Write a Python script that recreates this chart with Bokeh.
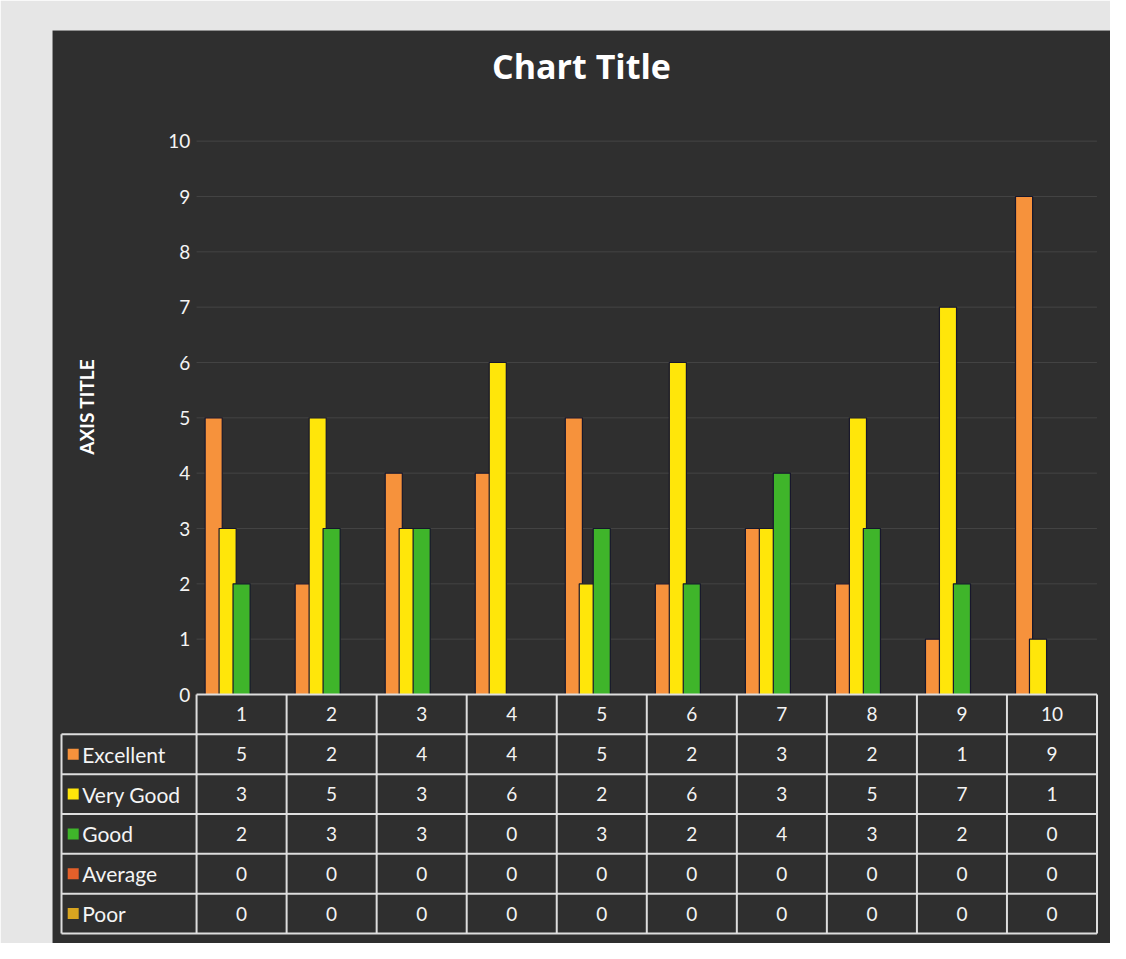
import math
from bokeh.plotting import figure
from bokeh.models import Range1d
from bokeh.core.properties import value
from bokeh.embed import file_html
from bokeh.resources import INLINE

categories = ["1", "2", "3", "4", "5", "6", "7", "8", "9", "10"]
series_names = ["Excellent", "Very Good", "Good", "Average", "Poor"]
excellent = [5, 2, 4, 4, 5, 2, 3, 2, 1, 9]
very_good = [3, 5, 3, 6, 2, 6, 3, 5, 7, 1]
good = [2, 3, 3, 0, 3, 2, 4, 3, 2, 0]
average = [0, 0, 0, 0, 0, 0, 0, 0, 0, 0]
poor = [0, 0, 0, 0, 0, 0, 0, 0, 0, 0]
y_ticks = [0, 1, 2, 3, 4, 5, 6, 7, 8, 9, 10]
y_tick_labels = ["0", "1", "2", "3", "4", "5", "6", "7", "8", "9", "10"]
chart_title = "Chart Title"
axis_title = "AXIS TITLE"

series_values = [excellent, very_good, good, average, poor]
series_colors = ["#F6923C", "#FFE60A", "#3FB52A", "#E4602A", "#D9A520"]

ROW_H = 0.72
LEFT = -1.0
TABLE_COLOR = "#dedede"
TXT = "#f4f4f4"

p = figure(width=1110, height=943, x_range=Range1d(-1.1, 10.65), y_range=Range1d(-4.5, 12.0),
           output_backend="svg", toolbar_location=None,
           x_axis_location=None, y_axis_location=None,
           min_border_left=52, min_border_right=0, min_border_top=30, min_border_bottom=0)
p.grid.visible = False
p.outline_line_color = None
p.background_fill_color = "#2f2f2f"
p.border_fill_color = "#e6e6e6"

n = len(categories)
xc = [i + 1 for i in range(n)]

# gridlines
gy = [t for t in y_ticks if t > 0]
p.segment(x0=[0.5] * len(gy), x1=[n + 0.5] * len(gy), y0=gy, y1=gy, line_color="#434343", line_width=1)

# bars
spacing = 0.155
for k, (vals, col) in enumerate(zip(series_values, series_colors)):
    off = (k - 2) * spacing
    xs = [x + off for x in xc]
    has = any(v != 0 for v in vals)
    p.vbar(x=xs, top=vals, bottom=0, width=0.19, fill_color=col,
           line_color="#17172c" if has else None, line_width=1.2)

# y tick labels
p.text(x=[0.43] * len(y_ticks), y=y_ticks, text=y_tick_labels, text_color=TXT,
       text_font=value("Lato"), text_font_size=value("19px"), text_align="right", text_baseline="middle")

# titles
p.text(x=[(p.x_range.start + p.x_range.end) / 2], y=[11.35], text=[chart_title], text_color="#ffffff",
       text_font=value("Open Sans"), text_font_style="bold", text_font_size=value("34px"),
       text_align="center", text_baseline="middle")
p.text(x=[-0.72], y=[5.2], text=[axis_title], angle=math.pi / 2, text_color="#ffffff",
       text_font=value("Lato"), text_font_style="bold", text_font_size=value("19px"),
       text_align="center", text_baseline="middle")

# data table lines
nrows = len(series_names)
bottom = -(nrows + 1) * ROW_H
hx0, hx1, hy = [0.5], [n + 0.5], [0.0]
for r in range(1, nrows + 2):
    hx0.append(LEFT)
    hx1.append(n + 0.5)
    hy.append(-r * ROW_H)
p.segment(x0=hx0, x1=hx1, y0=hy, y1=hy, line_color=TABLE_COLOR, line_width=2)
vx = [i + 0.5 for i in range(n + 1)]
p.segment(x0=vx, x1=vx, y0=[0.0] * len(vx), y1=[bottom] * len(vx), line_color=TABLE_COLOR, line_width=2)
p.segment(x0=[LEFT], x1=[LEFT], y0=[-ROW_H], y1=[bottom], line_color=TABLE_COLOR, line_width=2)

# header row
p.text(x=xc, y=[-0.5 * ROW_H] * n, text=categories, text_color=TXT,
       text_font=value("Lato"), text_font_size=value("19px"), text_align="center", text_baseline="middle")

# legend + values
for r, (name, vals, col) in enumerate(zip(series_names, series_values, series_colors)):
    yc = -(r + 1.5) * ROW_H
    p.scatter(x=[LEFT + 0.13], y=[yc], marker="square", size=11, fill_color=col, line_color=None)
    p.text(x=[LEFT + 0.23], y=[yc], text=[name], text_color=TXT,
           text_font=value("Lato"), text_font_size=value("21px"), text_align="left", text_baseline="middle")
    p.text(x=xc, y=[yc] * n, text=[str(v) for v in vals], text_color=TXT,
           text_font=value("Lato"), text_font_size=value("19px"), text_align="center", text_baseline="middle")

open("out.html", "w").write(file_html(p, INLINE))
